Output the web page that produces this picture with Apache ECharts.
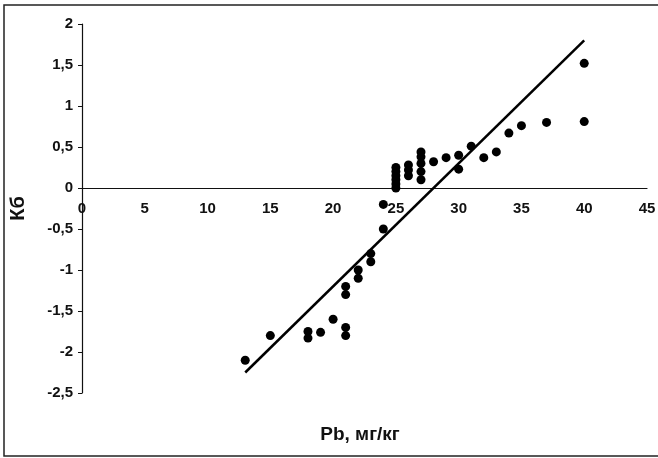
<!DOCTYPE html>
<html>
<head>
<meta charset="utf-8">
<script src="https://cdn.jsdelivr.net/npm/echarts@6/dist/echarts.min.js"></script>
<style>
  html,body{margin:0;padding:0;background:#fff;}
  #chart{width:658px;height:458px;}
</style>
</head>
<body>
<div id="chart"></div>
<script>
// Pb, мг/кг (x) и Кб (y)
const pbValues=[13,15,18,18,19,20,21,21,21,21,22,22,23,23,24,24,
  25,25,25,25,25,25,26,26,26,27,27,27,27,27,28,29,30,30,31,32,33,34,35,37,40,40];
const kbValues=[-2.1,-1.8,-1.75,-1.83,-1.76,-1.6,-1.2,-1.3,-1.7,-1.8,-1.0,-1.1,-0.8,-0.9,-0.2,-0.5,
  0,0.05,0.1,0.15,0.2,0.25,0.15,0.22,0.28,0.1,0.2,0.3,0.38,0.44,0.32,0.37,0.4,0.23,0.51,0.37,0.44,0.67,0.76,0.8,1.52,0.81];
// линия тренда
const trendX=[13,40];
const trendY=[-2.25,1.8];
const xTicks=[0,5,10,15,20,25,30,35,40,45];
const yTicks=[-2.5,-2,-1.5,-1,-0.5,0,0.5,1,1.5,2];

const font='"Liberation Sans", Arial, sans-serif';
const chart=echarts.init(document.getElementById('chart'));

const gridTop=24, gridBottom=65;
// ось X проходит через ноль оси Y
const plotH=458-gridTop-gridBottom;
const zeroOffset=-plotH*(0-yTicks[0])/(yTicks[yTicks.length-1]-yTicks[0]);

const option={
  backgroundColor:'#fff',
  animation:false,
  grid:{left:82,right:11,top:gridTop,bottom:gridBottom,outerBoundsMode:'none',containLabel:false},
  xAxis:{
    type:'value',
    min:xTicks[0],
    max:xTicks[xTicks.length-1],
    interval:5,
    offset:zeroOffset,
    axisLine:{onZero:false,lineStyle:{color:'#111',width:1.2}},
    axisTick:{show:false},
    splitLine:{show:false},
    axisLabel:{color:'#111',fontFamily:font,fontSize:15,fontWeight:'bold',margin:13}
  },
  yAxis:{
    type:'value',
    min:yTicks[0],
    max:yTicks[yTicks.length-1],
    interval:0.5,
    name:'Кб',
    nameLocation:'middle',
    nameRotate:90,
    nameGap:54,
    nameTextStyle:{color:'#111',fontFamily:font,fontSize:20,fontWeight:'bold'},
    axisLine:{show:true,onZero:false,lineStyle:{color:'#111',width:1.2}},
    axisTick:{show:true,length:4,lineStyle:{color:'#111'}},
    splitLine:{show:false},
    axisLabel:{
      color:'#111',fontFamily:font,fontSize:15,fontWeight:'bold',margin:9,
      formatter:(v)=>String(v).replace('.',',')
    }
  },
  graphic:[
    {type:'rect',shape:{x:4,y:5,width:720,height:451},
      style:{fill:'none',stroke:'#222',lineWidth:1.5}},
    {type:'text',x:360,y:435,
      style:{text:'Pb, мг/кг',fill:'#111',font:'bold 19px '+font,textAlign:'center',textVerticalAlign:'middle'}}
  ],
  series:[
    {
      type:'scatter',
      symbolSize:9,
      itemStyle:{color:'#000',opacity:1},
      data:pbValues.map((x,i)=>[x,kbValues[i]])
    },
    {
      type:'line',
      showSymbol:false,
      lineStyle:{color:'#000',width:2.5},
      data:trendX.map((x,i)=>[x,trendY[i]])
    }
  ]
};
chart.setOption(option);
</script>
</body>
</html>
